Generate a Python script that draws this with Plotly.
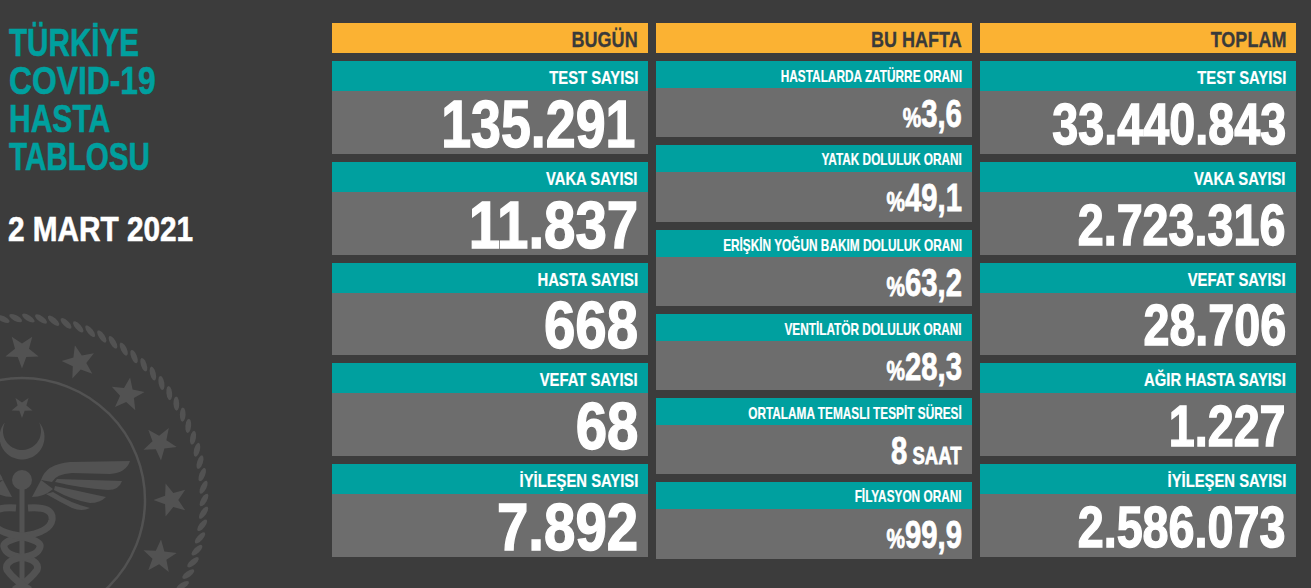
import json
import math
import re

import plotly.graph_objects as go

title_lines = ["TÜRKİYE", "COVID-19", "HASTA", "TABLOSU"]
date_text = "2 MART 2021"

headers = ["BUGÜN", "BU HAFTA", "TOPLAM"]

today_labels = ["TEST SAYISI", "VAKA SAYISI", "HASTA SAYISI", "VEFAT SAYISI", "İYİLEŞEN SAYISI"]
today_values = ["135.291", "11.837", "668", "68", "7.892"]

week_labels = ["HASTALARDA ZATÜRRE ORANI", "YATAK DOLULUK ORANI", "ERİŞKİN YOĞUN BAKIM DOLULUK ORANI",
               "VENTİLATÖR DOLULUK ORANI", "ORTALAMA TEMASLI TESPİT SÜRESİ", "FİLYASYON ORANI"]
week_values = ["3,6", "49,1", "63,2", "28,3", "8", "99,9"]
week_prefix = ["%", "%", "%", "%", "", "%"]
week_suffix = ["", "", "", "", " SAAT", ""]

total_labels = ["TEST SAYISI", "VAKA SAYISI", "VEFAT SAYISI", "AĞIR HASTA SAYISI", "İYİLEŞEN SAYISI"]
total_values = ["33.440.843", "2.723.316", "28.706", "1.227", "2.586.073"]

BG = "#3c3c3c"
TEAL = "#00a09f"
GREY = "#6d6d6d"
YELLOW = "#fbb233"
MARK = "#525252"
FONT = "Liberation Sans"

# page layout in pixels
col_x = [332, 656, 980]
col_w = 316
big_rows = [(61, 91, 154), (162, 192, 255), (263, 293, 355), (363, 393, 456), (464, 494, 557)]
small_rows = [(61, 88, 137), (145, 172, 222), (230, 257, 306), (314, 341, 390), (398, 425, 474), (482, 509, 559)]
today_fit = [(66, 0.815, 12), (66, 0.855, 10), (66, 0.855, 10), (66, 0.855, 10), (66, 0.855, 10)]
total_fit = [(57, 0.82, 10)] * 5
title_squeeze = [0.76, 0.815, 0.77, 0.76]

shapes = []
annotations = []
squeeze = []
heavy = []


def rect(x0, y0, x1, y1, color):
    shapes.append(dict(type="rect", x0=x0, x1=x1, y0=y0, y1=y1, fillcolor=color, line_width=0, layer="above"))


def text(x, y, s, size, color="white", anchor="right", sx=0.82, bold=0.0):
    annotations.append(dict(x=x, y=y, text=s, showarrow=False, xanchor=anchor, yanchor="middle",
                            xref="x", yref="y", borderpad=0, borderwidth=0,
                            font=dict(family=FONT, size=size, color=color, weight=700)))
    squeeze.append(sx)
    heavy.append(bold)


def poly(points):
    return "M " + " L ".join(f"{x:.1f},{y:.1f}" for x, y in points) + " Z"


def star(cx, cy, r, point_angle):
    pts = []
    for i in range(10):
        a = math.radians(point_angle + i * 36)
        rr = r if i % 2 == 0 else r * 0.42
        pts.append((cx + rr * math.cos(a), cy + rr * math.sin(a)))
    return poly(pts)


def mirror(path):
    return re.sub(r"(-?[\d.]+),", lambda m: f"{2 * EM_X - float(m[1]):.1f},", path)


# emblem in the bottom left corner
EM_X, EM_Y = 22, 500
rope = []
for deg in range(-100, 200, 4):
    a = math.radians(deg)
    cx = EM_X + 182 * math.cos(a)
    cy = EM_Y + 182 * math.sin(a)
    tilt = a + math.pi / 2 + math.radians(30)
    pts = []
    for k in range(12):
        t = k * math.pi / 6
        u, v = 7.2 * math.cos(t), 2.9 * math.sin(t)
        pts.append((cx + u * math.cos(tilt) - v * math.sin(tilt), cy + u * math.sin(tilt) + v * math.cos(tilt)))
    rope.append(poly(pts))
shapes.append(dict(type="path", path=" ".join(rope), fillcolor=MARK, line_width=0, layer="below"))

stars = []
for deg in [-90, -67.5, -45, -22.5, 0, 22.5, 45]:
    a = math.radians(deg)
    stars.append(star(EM_X + 149 * math.cos(a), EM_Y + 149 * math.sin(a), 17.5, deg + 180))
stars.append(star(EM_X, 407, 11, 90))
shapes.append(dict(type="path", path=" ".join(stars), fillcolor=MARK, line_width=0, layer="below"))

shapes.append(dict(type="circle", x0=EM_X - 123, x1=EM_X + 123, y0=EM_Y - 122, y1=EM_Y + 122,
                   line=dict(color=MARK, width=2.5), layer="below"))

crescent = [(22 + 22.5 * math.cos(math.radians(d)), 437 + 22.5 * math.sin(math.radians(d))) for d in range(-42, 223, 8)]
crescent += [(22 + 19 * math.cos(math.radians(d)), 431 + 19 * math.sin(math.radians(d))) for d in range(208, -29, -8)]
shapes.append(dict(type="path", path=poly(crescent), fillcolor=MARK, line_width=0, layer="below"))

shapes.append(dict(type="circle", x0=12, x1=32, y0=470, y1=490, fillcolor=MARK, line_width=0, layer="below"))
rect(19.5, 485, 24.5, 588, MARK)
shapes[-1]["layer"] = "below"

wing = [
    "M 41.0,480.0 Q 46.0,464.0 70.0,462.0 L 130.0,461.0 Q 126.0,473.0 110.0,474.0 L 72.0,473.0 Q 56.0,474.0 52.0,482.0 Z",
    "M 57.0,479.0 L 122.0,481.0 Q 119.0,490.0 108.0,490.0 Q 80.0,488.0 55.0,482.0 Z",
    "M 55.0,486.0 L 106.0,497.0 Q 100.0,503.0 90.0,503.0 Q 72.0,500.0 54.0,490.0 Z",
    "M 53.0,492.0 Q 70.0,503.0 90.0,508.0 Q 82.0,512.0 72.0,508.0 Q 60.0,502.0 46.0,494.0 Z",
    "M 41.0,480.0 L 32.0,497.0 Q 44.0,497.0 53.0,489.0 Z",
]
snake = ["M 28.0,508.0 Q 54.0,506.0 52.0,520.0 Q 50.0,532.0 24.0,536.0 Q 2.0,541.0 4.0,547.0 "
         "Q 6.0,556.0 26.0,558.0 Q 40.0,562.0 37.0,570.0 Q 30.0,580.0 14.0,590.0"]
for p in wing + [mirror(w) for w in wing]:
    shapes.append(dict(type="path", path=p, fillcolor=MARK, line_width=0, layer="below"))
for p in snake + [mirror(s) for s in snake]:
    shapes.append(dict(type="path", path=p, line=dict(color=MARK, width=7), layer="below"))

# left hand title
for i, line in enumerate(title_lines):
    text(9, 42 + i * 38, line, 39, color=TEAL, anchor="left", sx=title_squeeze[i], bold=0.6)
text(8, 228, date_text, 35, anchor="left", sx=0.85, bold=0.6)

# column headers
for x, h in zip(col_x, headers):
    rect(x, 23, x + col_w, 53, YELLOW)
    text(x + col_w - 10, 39, h, 22, color="#3a3a3a", bold=0.3)

# cards with big numbers, first and last column
for x, labels, values, fits in [(col_x[0], today_labels, today_values, today_fit),
                                (col_x[2], total_labels, total_values, total_fit)]:
    for (y0, y1, y2), label, value, (size, sx, pad) in zip(big_rows, labels, values, fits):
        rect(x, y0, x + col_w, y1, TEAL)
        rect(x, y1, x + col_w, y2, GREY)
        text(x + col_w - 10, (y0 + y1) / 2 + 1, label, 19, sx=0.78, bold=0.2)
        text(x + col_w - pad, (y1 + y2) / 2 + 1, value, size, sx=sx, bold=1.4)

# middle column
x = col_x[1]
for (y0, y1, y2), label, value, pre, suf in zip(small_rows, week_labels, week_values, week_prefix, week_suffix):
    rect(x, y0, x + col_w, y1, TEAL)
    rect(x, y1, x + col_w, y2, GREY)
    text(x + col_w - 10, (y0 + y1) / 2 + 1, label, 16, sx=0.74, bold=0.2)
    body = f'<span style="font-size:27px">{pre}</span>{value}<span style="font-size:24px">{suf}</span>'
    text(x + col_w - 10, (y1 + y2) / 2 + 1, body, 38, sx=0.77, bold=0.8)

fig = go.Figure()
fig.update_layout(
    width=1311, height=588,
    margin=dict(l=0, r=0, t=0, b=0),
    paper_bgcolor=BG, plot_bgcolor=BG,
    showlegend=False,
    xaxis=dict(range=[0, 1311], visible=False, fixedrange=True),
    yaxis=dict(range=[588, 0], visible=False, fixedrange=True),
    shapes=shapes,
    annotations=annotations,
)

# no condensed font is installed, so narrow the text after drawing, keeping its anchored edge fixed
post = """
document.body.style.margin = '0';
document.body.style.background = '%s';
var squeeze = %s;
var heavy = %s;
var leftAnchored = %s;
document.querySelectorAll('g.annotation').forEach(function (g) {
    var i = +g.getAttribute('data-index');
    var t = g.querySelector('text.annotation-text');
    var b = t.getBBox();
    var s = squeeze[i];
    var edge = leftAnchored.indexOf(i) >= 0 ? b.x : b.x + b.width;
    t.setAttribute('transform', 'translate(' + edge * (1 - s) + ',0) scale(' + s + ',1)');
    t.style.stroke = getComputedStyle(t).fill;
    t.style.strokeWidth = heavy[i] + 'px';
});
""" % (BG, json.dumps(squeeze), json.dumps(heavy), json.dumps(list(range(len(title_lines) + 1))))

fig.write_html("out.html", config=dict(displayModeBar=False), post_script=post)
